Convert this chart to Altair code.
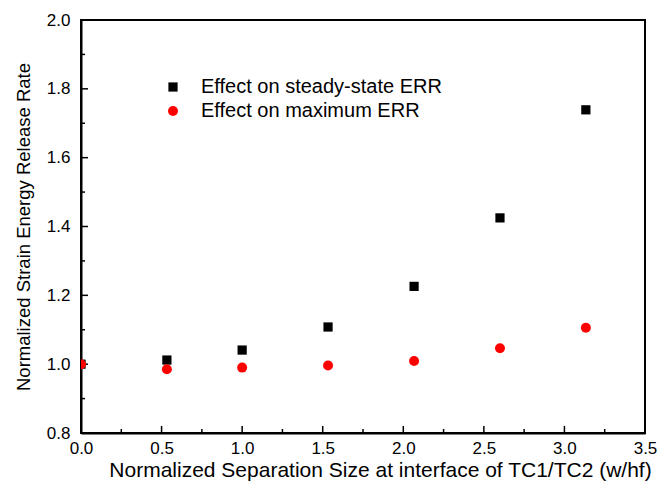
import altair as alt
import pandas as pd

# Data
x_vals = [0.0, 0.533, 1.0, 1.533, 2.067, 2.6, 3.133]
steady_err = [1.0, 1.012, 1.041, 1.108, 1.226, 1.425, 1.739]
max_err = [1.0, 0.985, 0.990, 0.996, 1.009, 1.046, 1.106]
series_names = ["Effect on steady-state ERR", "Effect on maximum ERR"]

x_major = [0.0, 0.5, 1.0, 1.5, 2.0, 2.5, 3.0, 3.5]
x_minor = [0.25, 0.75, 1.25, 1.75, 2.25, 2.75, 3.25]
y_major = [0.8, 1.0, 1.2, 1.4, 1.6, 1.8, 2.0]
y_minor = [0.9, 1.1, 1.3, 1.5, 1.7, 1.9]

W, H = 564, 413
FONT = "Liberation Sans"

df = pd.DataFrame({
    "x": x_vals * 2,
    "y": steady_err + max_err,
    "series": [series_names[0]] * len(x_vals) + [series_names[1]] * len(x_vals),
    "order": [0] * len(x_vals) + [1] * len(x_vals),
})

xscale = alt.Scale(domain=[0, 3.5], nice=False, zero=False)
yscale = alt.Scale(domain=[0.8, 2.0], nice=False, zero=False)

xaxis = alt.Axis(
    values=x_major, format=".1f", ticks=False, tickSize=0, grid=False,
    labelFlush=False, labelOverlap=False,
    labelFontSize=17, labelFont=FONT, labelColor="black", labelPadding=7,
    title="Normalized Separation Size at interface of TC1/TC2 (w/hf)",
    titleFontSize=21, titleFont=FONT, titleFontWeight="normal", titleColor="black",
    titlePadding=3, titleX=299, titleAnchor="start", titleAlign="center",
    domainColor="black", domainWidth=2,
)
yaxis = alt.Axis(
    values=y_major, format=".1f", ticks=False, tickSize=0, grid=False,
    labelFlush=False, labelOverlap=False,
    labelFontSize=17, labelFont=FONT, labelColor="black", labelPadding=11,
    title="Normalized Strain Energy Release Rate",
    titleFontSize=18.5, titleFont=FONT, titleFontWeight="normal", titleColor="black",
    titlePadding=13, domainColor="black", domainWidth=2,
)

points = alt.Chart(df).mark_point(filled=True, opacity=1, clip=True, strokeWidth=0).encode(
    x=alt.X("x:Q", scale=xscale, axis=xaxis),
    y=alt.Y("y:Q", scale=yscale, axis=yaxis),
    color=alt.Color("series:N", scale=alt.Scale(domain=series_names, range=["black", "#ff0000"]),
                    legend=alt.Legend(
                        title=None, orient="none", legendX=82, legendY=57,
                        labelFontSize=20, labelFont=FONT, labelColor="black", labelLimit=0,
                        symbolSize=95, rowPadding=4, labelOffset=18, padding=0,
                        symbolStrokeWidth=0,
                    )),
    shape=alt.Shape("series:N", scale=alt.Scale(domain=series_names, range=["square", "circle"])),
    size=alt.Size("series:N", scale=alt.Scale(domain=series_names, range=[85, 100]), legend=None),
    order=alt.Order("order:Q"),
)

xmaj = pd.DataFrame({"v": x_major})
xmin = pd.DataFrame({"v": x_minor})
ymaj = pd.DataFrame({"v": y_major[1:-1]})
ymin = pd.DataFrame({"v": y_minor})

def xticks(data, length):
    return alt.Chart(data).mark_rule(color="black", strokeWidth=1.5).encode(
        x=alt.X("v:Q", scale=xscale), y=alt.value(H), y2=alt.value(H - length))

def yticks(data, length):
    return alt.Chart(data).mark_rule(color="black", strokeWidth=1.5).encode(
        y=alt.Y("v:Q", scale=yscale), x=alt.value(0), x2=alt.value(length))

chart = alt.layer(
    xticks(xmaj, 7), xticks(xmin, 4), yticks(ymaj, 7), yticks(ymin, 4), points
).properties(
    width=W, height=H,
    autosize=alt.AutoSizeParams(type="none"),
    padding={"left": 73, "top": 12, "right": 18, "bottom": 49},
).configure_view(
    stroke="black", strokeWidth=2
)

chart.save("out.html", embed_options={"renderer": "svg", "actions": False})
